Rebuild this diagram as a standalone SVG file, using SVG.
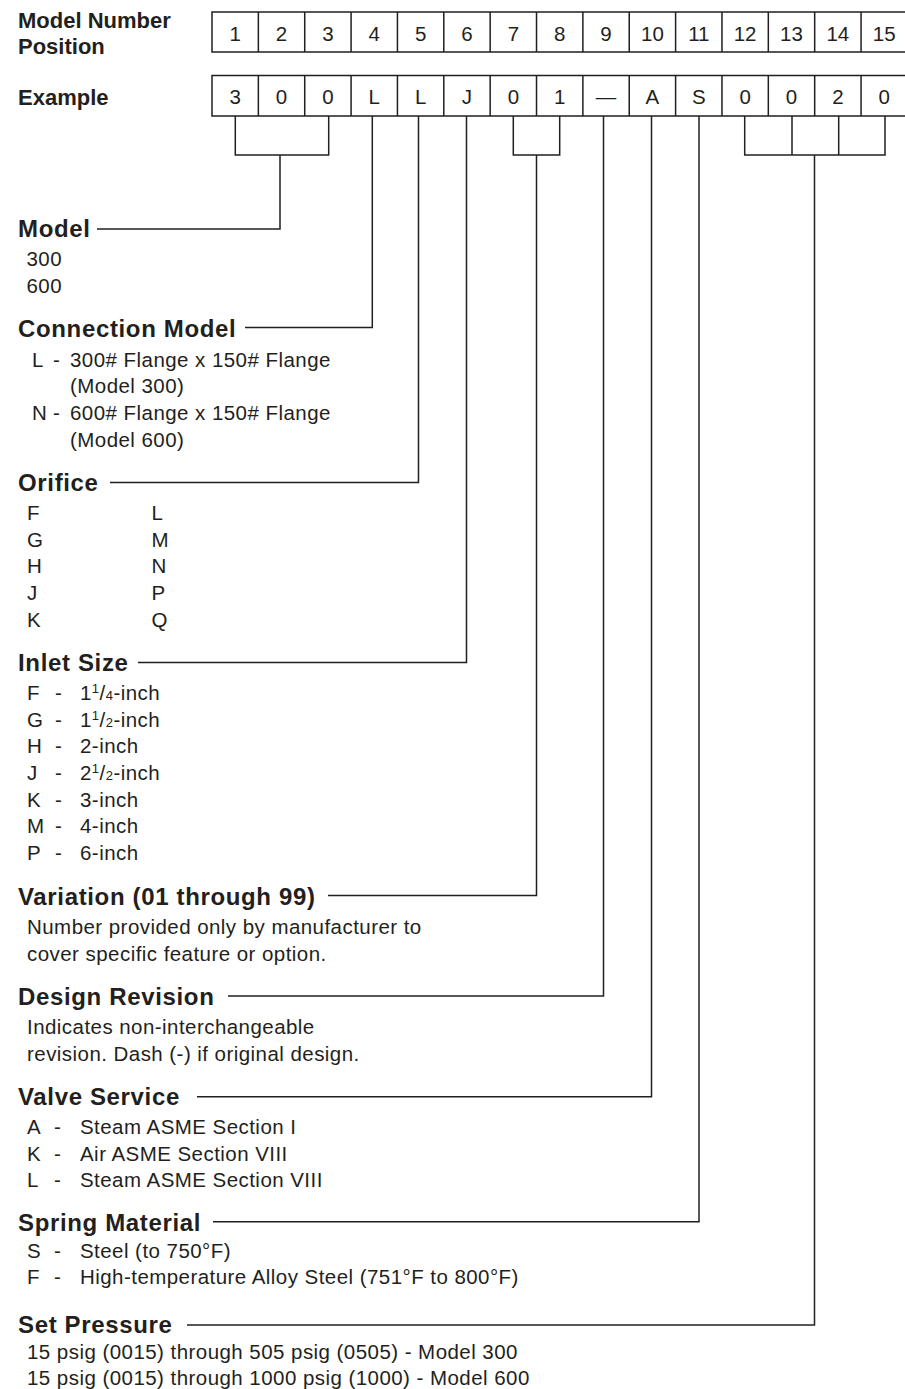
<svg xmlns="http://www.w3.org/2000/svg" width="905" height="1389" viewBox="0 0 905 1389">
<style>
text{font-family:"Liberation Sans",Arial,Helvetica,sans-serif;fill:#231f20}
.h{font-weight:bold;font-size:24px;letter-spacing:0.65px}
.top{font-weight:bold;font-size:22px}
.t{font-size:20.5px;letter-spacing:0.45px}
.c{font-size:20.5px;text-anchor:middle}
.s{font-size:13px}
.ln{fill:none;stroke:#231f20;stroke-width:1.5}
</style>
<rect width="905" height="1389" fill="#ffffff"/>
<g id="position-row">
<text class="top" x="18" y="28">Model Number</text>
<text class="top" x="18" y="54">Position</text>
<path class="ln" d="M212,12H912V52H212Z M258.36,12V52 M304.72,12V52 M351.08,12V52 M397.44,12V52 M443.8,12V52 M490.16,12V52 M536.52,12V52 M582.88,12V52 M629.24,12V52 M675.6,12V52 M721.96,12V52 M768.32,12V52 M814.68,12V52 M861.04,12V52"/>
<text class="c" y="41"><tspan x="235.18">1</tspan><tspan x="281.54">2</tspan><tspan x="327.9">3</tspan><tspan x="374.26">4</tspan><tspan x="420.62">5</tspan><tspan x="466.98">6</tspan><tspan x="513.34">7</tspan><tspan x="559.7">8</tspan><tspan x="606.06">9</tspan><tspan x="652.42">10</tspan><tspan x="698.78">11</tspan><tspan x="745.14">12</tspan><tspan x="791.5">13</tspan><tspan x="837.86">14</tspan><tspan x="884.22">15</tspan></text>
</g>
<g id="example-row">
<text class="top" x="18" y="105">Example</text>
<path class="ln" d="M212,75.5H912V116H212Z M258.36,75.5V116 M304.72,75.5V116 M351.08,75.5V116 M397.44,75.5V116 M443.8,75.5V116 M490.16,75.5V116 M536.52,75.5V116 M582.88,75.5V116 M629.24,75.5V116 M675.6,75.5V116 M721.96,75.5V116 M768.32,75.5V116 M814.68,75.5V116 M861.04,75.5V116"/>
<text class="c" y="104"><tspan x="235.18">3</tspan><tspan x="281.54">0</tspan><tspan x="327.9">0</tspan><tspan x="374.26">L</tspan><tspan x="420.62">L</tspan><tspan x="466.98">J</tspan><tspan x="513.34">0</tspan><tspan x="559.7">1</tspan><tspan x="606.06">—</tspan><tspan x="652.42">A</tspan><tspan x="698.78">S</tspan><tspan x="745.14">0</tspan><tspan x="791.5">0</tspan><tspan x="837.86">2</tspan><tspan x="884.22">0</tspan></text>
</g>
<g id="connectors">
<path class="ln" d="M235.3,116V155H328.7V116 M280,155V229H97"/>
<path class="ln" d="M372.3,116V327.5H245"/>
<path class="ln" d="M418.5,116V482.5H110"/>
<path class="ln" d="M466.5,116V662.5H138"/>
<path class="ln" d="M513.3,116V155H559.7V116 M536.5,155V895.5H328"/>
<path class="ln" d="M603.5,116V996H228"/>
<path class="ln" d="M651.5,116V1096.7H197"/>
<path class="ln" d="M699,116V1221.7H213"/>
<path class="ln" d="M744.7,116V155H885V116 M792,116V155 M838.7,116V155 M814.5,155V1325H187"/>
</g>
<g id="model">
<text class="h" x="18" y="237.3">Model</text>
<text class="t" x="26.5" y="266">300</text>
<text class="t" x="26.5" y="292.7">600</text>
</g>
<g id="connection-model">
<text class="h" x="18" y="337">Connection Model</text>
<text class="t" y="366.7"><tspan x="32">L</tspan><tspan x="53">-</tspan><tspan x="70">300# Flange x 150# Flange</tspan></text>
<text class="t" x="70" y="393.3">(Model 300)</text>
<text class="t" y="420"><tspan x="32">N</tspan><tspan x="53">-</tspan><tspan x="70">600# Flange x 150# Flange</tspan></text>
<text class="t" x="70" y="446.7">(Model 600)</text>
</g>
<g id="orifice">
<text class="h" x="18" y="490.7">Orifice</text>
<text class="t" y="520"><tspan x="27">F</tspan><tspan x="151.5">L</tspan></text>
<text class="t" y="546.7"><tspan x="27">G</tspan><tspan x="151.5">M</tspan></text>
<text class="t" y="573.3"><tspan x="27">H</tspan><tspan x="151.5">N</tspan></text>
<text class="t" y="600"><tspan x="27">J</tspan><tspan x="151.5">P</tspan></text>
<text class="t" y="626.7"><tspan x="27">K</tspan><tspan x="151.5">Q</tspan></text>
</g>
<g id="inlet-size">
<text class="h" x="18" y="670.7">Inlet Size</text>
<text class="t" y="700"><tspan x="27">F</tspan><tspan x="55">-</tspan><tspan x="80">1</tspan><tspan class="s" dy="-7">1</tspan><tspan dy="7">/</tspan><tspan class="s">4</tspan><tspan>-inch</tspan></text>
<text class="t" y="726.7"><tspan x="27">G</tspan><tspan x="55">-</tspan><tspan x="80">1</tspan><tspan class="s" dy="-7">1</tspan><tspan dy="7">/</tspan><tspan class="s">2</tspan><tspan>-inch</tspan></text>
<text class="t" y="753.3"><tspan x="27">H</tspan><tspan x="55">-</tspan><tspan x="80">2-inch</tspan></text>
<text class="t" y="780"><tspan x="27">J</tspan><tspan x="55">-</tspan><tspan x="80">2</tspan><tspan class="s" dy="-7">1</tspan><tspan dy="7">/</tspan><tspan class="s">2</tspan><tspan>-inch</tspan></text>
<text class="t" y="806.7"><tspan x="27">K</tspan><tspan x="55">-</tspan><tspan x="80">3-inch</tspan></text>
<text class="t" y="833.3"><tspan x="27">M</tspan><tspan x="55">-</tspan><tspan x="80">4-inch</tspan></text>
<text class="t" y="860"><tspan x="27">P</tspan><tspan x="55">-</tspan><tspan x="80">6-inch</tspan></text>
</g>
<g id="variation">
<text class="h" x="18" y="904.5">Variation (01 through 99)</text>
<text class="t" x="27" y="934">Number provided only by manufacturer to</text>
<text class="t" x="27" y="960.7">cover specific feature or option.</text>
</g>
<g id="design-revision">
<text class="h" x="18" y="1004.7">Design Revision</text>
<text class="t" x="27" y="1034">Indicates non-interchangeable</text>
<text class="t" x="27" y="1060.7">revision. Dash (-) if original design.</text>
</g>
<g id="valve-service">
<text class="h" x="18" y="1105">Valve Service</text>
<text class="t" y="1134"><tspan x="27">A</tspan><tspan x="54">-</tspan><tspan x="80">Steam ASME Section I</tspan></text>
<text class="t" y="1160.7"><tspan x="27">K</tspan><tspan x="54">-</tspan><tspan x="80">Air ASME Section VIII</tspan></text>
<text class="t" y="1187.3"><tspan x="27">L</tspan><tspan x="54">-</tspan><tspan x="80">Steam ASME Section VIII</tspan></text>
</g>
<g id="spring-material">
<text class="h" x="18" y="1230.5">Spring Material</text>
<text class="t" y="1257.5"><tspan x="27">S</tspan><tspan x="54">-</tspan><tspan x="80">Steel (to 750°F)</tspan></text>
<text class="t" y="1284.2"><tspan x="27">F</tspan><tspan x="54">-</tspan><tspan x="80">High-temperature Alloy Steel (751°F to 800°F)</tspan></text>
</g>
<g id="set-pressure">
<text class="h" x="18" y="1332.5">Set Pressure</text>
<text class="t" x="27" y="1358.5">15 psig (0015) through 505 psig (0505) - Model 300</text>
<text class="t" x="27" y="1385.2">15 psig (0015) through 1000 psig (1000) - Model 600</text>
</g>
</svg>
